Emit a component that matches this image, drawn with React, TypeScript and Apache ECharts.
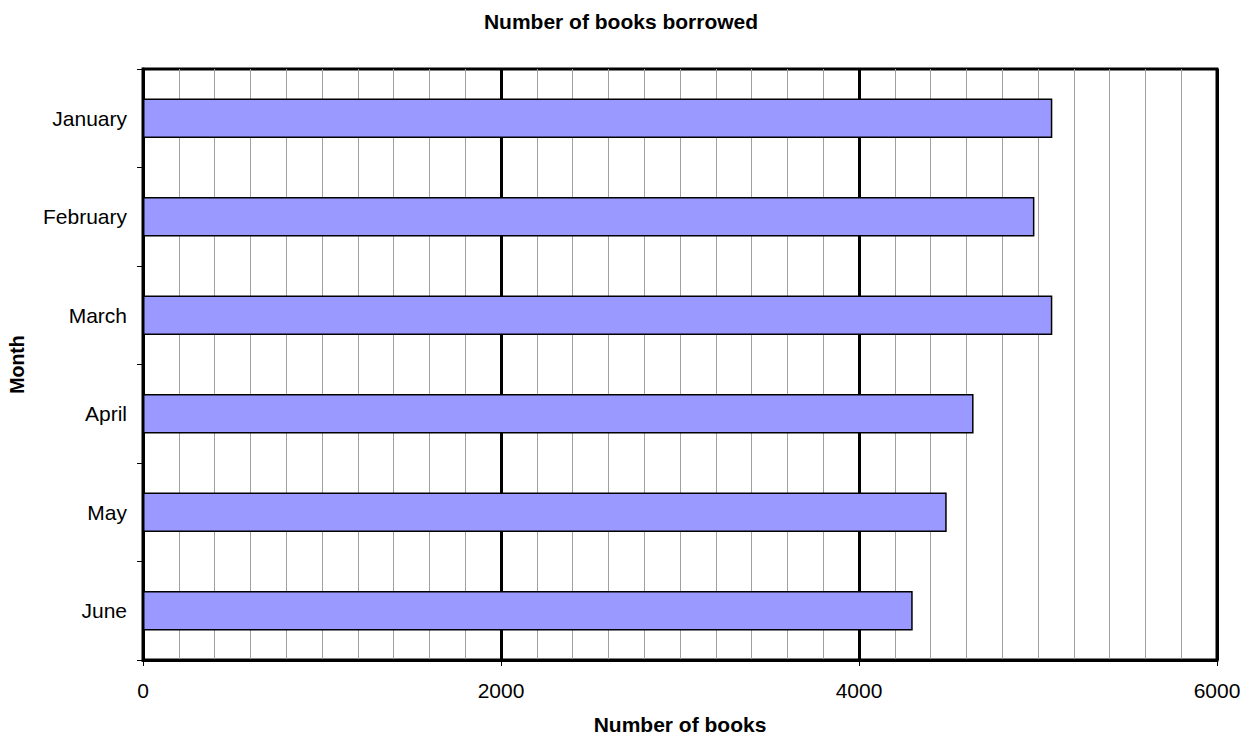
import React, { useEffect, useRef } from "react";
import * as echarts from "echarts";

const months = ["January", "February", "March", "April", "May", "June"];
const booksBorrowed = [5080, 4980, 5080, 4640, 4490, 4300];
const xMin = 0;
const xMax = 6000;
const xInterval = 2000;

const FONT = "Liberation Sans, Arial, sans-serif";

export default function App() {
  const ref = useRef<HTMLDivElement>(null);
  useEffect(() => {
    if (!ref.current) return;
    const chart = echarts.init(ref.current, null, { renderer: "svg" });
    chart.setOption({
      animation: false,
      backgroundColor: "#ffffff",
      graphic: [
        {
          type: "text",
          x: 621,
          y: 21,
          style: {
            text: "Number of books borrowed",
            textAlign: "center",
            textVerticalAlign: "middle",
            font: `bold 21px ${FONT}`,
            fill: "#000",
          },
        },
      ],
      grid: {
        left: 143,
        right: 33,
        top: 69,
        bottom: 77,
        show: true,
        borderColor: "#000",
        borderWidth: 3,
        containLabel: false,
        outerBoundsMode: "none",
      },
      xAxis: {
        type: "value",
        min: xMin,
        max: xMax,
        interval: xInterval,
        name: "Number of books",
        nameLocation: "middle",
        nameGap: 54,
        nameTextStyle: { fontFamily: FONT, fontWeight: "bold", fontSize: 21, color: "#000" },
        axisLine: { show: true, lineStyle: { color: "#000", width: 3 } },
        axisTick: { show: true, length: 6, lineStyle: { color: "#000", width: 1 } },
        axisLabel: {
          fontFamily: FONT,
          fontSize: 21,
          color: "#000",
          margin: 20,
          formatter: (v: number) => String(v),
        },
        splitLine: { show: true, lineStyle: { color: "#000", width: 3 } },
        minorTick: { show: false, splitNumber: 10 },
        minorSplitLine: { show: true, lineStyle: { color: "#a0a0a0", width: 1 } },
      },
      yAxis: {
        type: "category",
        data: months,
        inverse: true,
        name: "Month",
        nameLocation: "middle",
        nameGap: 116,
        nameRotate: 90,
        nameTextStyle: { fontFamily: FONT, fontWeight: "bold", fontSize: 19.5, color: "#000" },
        axisLine: { show: true, lineStyle: { color: "#000", width: 3 } },
        axisTick: { show: true, length: 6, alignWithLabel: false, lineStyle: { color: "#000", width: 1 } },
        axisLabel: { fontFamily: FONT, fontSize: 21, color: "#000", margin: 16 },
        splitLine: { show: false },
      },
      series: [
        {
          type: "bar",
          data: booksBorrowed,
          barCategoryGap: "60%",
          itemStyle: { color: "#9999ff", borderColor: "#000", borderWidth: 1.5 },
        },
      ],
    });
    return () => chart.dispose();
  }, []);
  return (
    <div
      ref={ref}
      style={{ position: "fixed", left: 0, top: 0, width: 1250, height: 737 }}
    />
  );
}
